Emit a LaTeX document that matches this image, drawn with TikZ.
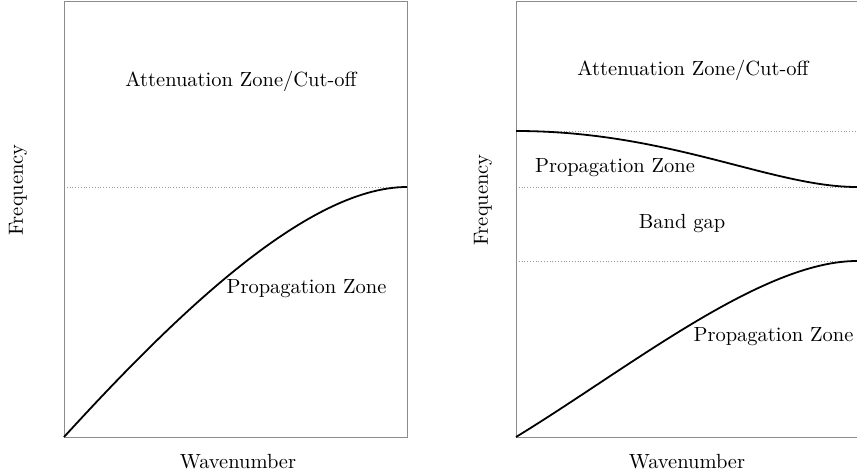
\documentclass[tikz,border=0pt]{standalone}
\newcommand\bigtxt[1]{\scalebox{2.05}{#1}}
\begin{document}
\begin{tikzpicture}[x=1pt,y=-1pt,
  frame/.style={draw=black!45,line width=0.9pt},
  curve/.style={draw=black,line width=1.8pt},
  guide/.style={draw=black!40,line width=0.8pt,dotted},
  lbl/.style={font=\fontsize{10}{12}\selectfont,inner sep=0pt}]
\useasboundingbox (0,0) rectangle (857,474);
% left panel
\draw[guide] (64,187) -- (407,187);
\draw[frame] (64,437) -- (64,1) -- (407,1) -- (407,437) -- cycle;
\draw[curve] (64,437) .. controls (167,324.5) and (304,187) .. (407,187);
\node[lbl] (att1) at (241,81) {\bigtxt{Attenuation Zone/Cut-off}};
\node[lbl] (prop1) at (306.5,289) {\bigtxt{Propagation Zone}};
\node[lbl] (wav1) at (238,462) {\bigtxt{Wavenumber}};
\node[lbl,rotate=90] (fr1) at (18,190) {\bigtxt{Frequency}};
% right panel
\draw[guide] (516,131) -- (857,131);
\draw[guide] (516,187) -- (857,187);
\draw[guide] (516,261) -- (857,261);
\draw[frame] (857,437) -- (516,437) -- (516,1) -- (857,1);
\draw[curve] (516,131) .. controls (669.5,131) and (771.8,187) .. (857,187);
\draw[curve] (516,437) .. controls (628.5,368.4) and (761.5,261) .. (857,261);
\node[lbl] (att2) at (693,70) {\bigtxt{Attenuation Zone/Cut-off}};
\node[lbl] (prop2) at (615,168) {\bigtxt{Propagation Zone}};
\node[lbl] (gap) at (682,223) {\bigtxt{Band gap}};
\node[lbl] (prop3) at (773.5,337) {\bigtxt{Propagation Zone}};
\node[lbl] (wav2) at (687,462) {\bigtxt{Wavenumber}};
\node[lbl,rotate=90] (fr2) at (483,200) {\bigtxt{Frequency}};
\end{tikzpicture}
\end{document}
